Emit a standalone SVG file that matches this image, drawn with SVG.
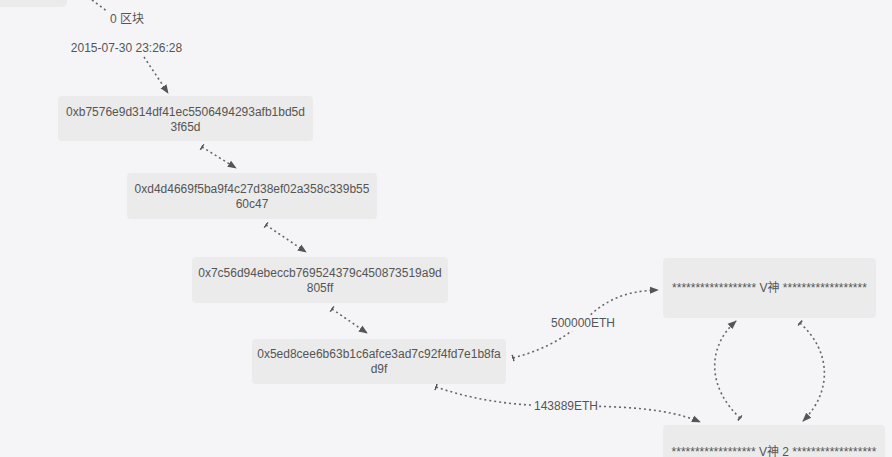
<svg xmlns="http://www.w3.org/2000/svg" width="892" height="457" viewBox="0 0 892 457">
<style>
.bg{fill:#f5f5f8}
.node{fill:#ebebeb;stroke:none}
.t{font-family:"Liberation Sans","Noto Sans CJK SC",sans-serif;font-size:12px;fill:#555;text-anchor:middle}
.e{fill:none;stroke:#666;stroke-width:1.6;stroke-dasharray:2,3}
.lb{fill:#f5f5f8}
</style>
<defs>
<marker id="arr" viewBox="0 0 10 10" refX="9" refY="5" markerWidth="9" markerHeight="9" markerUnits="userSpaceOnUse" orient="auto">
<path d="M0,1 L10,5 L0,9 z" fill="#555"/>
</marker>
<marker id="tail" viewBox="0 0 10 10" refX="1" refY="5" markerWidth="8" markerHeight="8" markerUnits="userSpaceOnUse" orient="auto">
<path d="M1,1 L1,9" stroke="#555" stroke-width="2" fill="none"/>
</marker>
</defs>
<rect class="bg" x="0" y="0" width="892" height="457"/>
<g id="connectors">
<path class="e" d="M92,0 L108,12"/>
<path class="e" d="M144,57 L168,93" marker-end="url(#arr)"/>
<path class="e" d="M202,147 L236,168" marker-start="url(#tail)" marker-end="url(#arr)"/>
<path class="e" d="M266,225 L306,252" marker-start="url(#tail)" marker-end="url(#arr)"/>
<path class="e" d="M332,309 L367,333" marker-start="url(#tail)" marker-end="url(#arr)"/>
<path class="e" d="M513,358 C550,348 568,335 585,320 C605,300 625,291 658,290" marker-start="url(#tail)" marker-end="url(#arr)"/>
<path class="e" d="M436,387 C480,402 520,406 566,406 C620,406 668,408 700,422" marker-start="url(#tail)" marker-end="url(#arr)"/>
<path class="e" d="M740,418 C708,388 706,348 736,321" marker-start="url(#tail)" marker-end="url(#arr)"/>
<path class="e" d="M800,323 C832,352 832,392 803,421" marker-start="url(#tail)" marker-end="url(#arr)"/>
<rect class="lb" x="550" y="315" width="66" height="16"/>
<text class="t" x="583" y="327">500000ETH</text>
<rect class="lb" x="534" y="398" width="64" height="16"/>
<text class="t" x="566" y="410">143889ETH</text>
<text class="t" x="127" y="23">0 区块</text>
</g>
<g id="n0">
<rect class="node" x="-10" y="-20" width="77" height="27" rx="5"/>
</g>
<g id="ts">
<text class="t" x="126.5" y="52">2015-07-30 23:26:28</text>
</g>
<g id="n1">
<rect class="node" x="58" y="96" width="255" height="45" rx="4"/>
<text class="t" x="185.5" y="116">0xb7576e9d314df41ec5506494293afb1bd5d</text>
<text class="t" x="185.5" y="131">3f65d</text>
</g>
<g id="n2">
<rect class="node" x="127" y="173" width="250" height="46" rx="4"/>
<text class="t" x="252" y="193">0xd4d4669f5ba9f4c27d38ef02a358c339b55</text>
<text class="t" x="252" y="208">60c47</text>
</g>
<g id="n3">
<rect class="node" x="192" y="257" width="256" height="46" rx="4"/>
<text class="t" x="320" y="277">0x7c56d94ebeccb769524379c450873519a9d</text>
<text class="t" x="320" y="292">805ff</text>
</g>
<g id="n4">
<rect class="node" x="252" y="339" width="254" height="45" rx="4"/>
<text class="t" x="379" y="358">0x5ed8cee6b63b1c6afce3ad7c92f4fd7e1b8fa</text>
<text class="t" x="379" y="373">d9f</text>
</g>
<g id="v1">
<rect class="node" x="663" y="258" width="213" height="60" rx="4"/>
<text class="t" x="769.5" y="292">****************** V神 ******************</text>
</g>
<g id="v2">
<rect class="node" x="663" y="425" width="222" height="60" rx="4"/>
<text class="t" x="774" y="456">****************** V神 2 ******************</text>
</g>
</svg>
